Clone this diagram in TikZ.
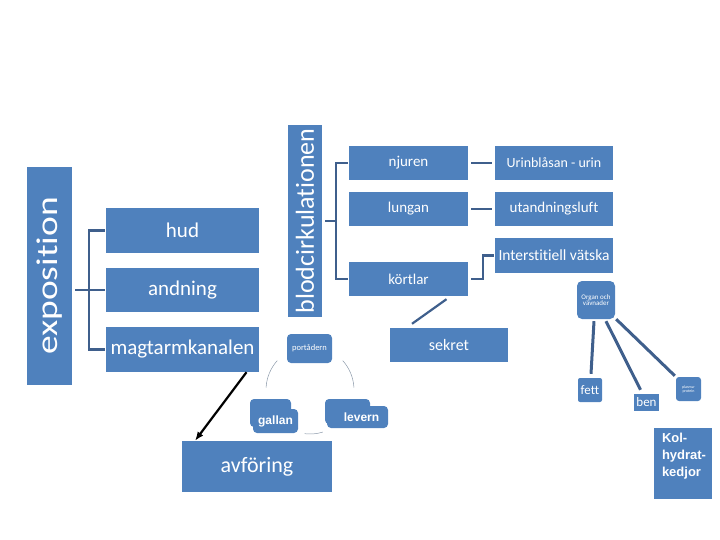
\documentclass[tikz,border=0pt]{standalone}
\usepackage{fontspec}
\setmainfont{Carlito}[RawFeature={-liga,-dlig,-clig}]
\newfontfamily\arialfont{Liberation Sans}
\usetikzlibrary{arrows.meta}
\definecolor{boxblue}{HTML}{4F81BD}
\definecolor{linkblue}{HTML}{3F5F8C}
\definecolor{cyclegray}{HTML}{8C9AAA}
\newcommand{\fsz}[1]{\fontsize{#1}{#1}\selectfont}
\tikzset{
    box/.style={fill=boxblue, text=white, inner sep=0pt, align=center},
    tabbox/.style={box, rounded corners=4pt, font=\arialfont\bfseries\fsz{12}},
    brk/.style={draw=linkblue, line width=2.2pt},
    lnk/.style={draw=linkblue, line width=3pt},
    cyc/.style={draw=cyclegray, line width=0.5pt},
}

\begin{document}
\begin{tikzpicture}[x=1pt,y=-1pt]
    \useasboundingbox (0,0) rectangle (720,540);
    % Левая часть: exposition и три пути.
    \node[box, rotate=90, minimum width=218, minimum height=45, font=\fsz{30}] (expo) at (49.5,276) {\scalebox{1.25}[1]{exposition}};
    \node[box, minimum width=153, minimum height=45, font=\fsz{21}] (hud) at (182.5,230.5) {hud};
    \node[box, minimum width=153, minimum height=44, font=\fsz{21}] (andning) at (182.5,290) {andning};
    \node[box, minimum width=153, minimum height=45, font=\fsz{21}] (magtarm) at (182.5,349.5) {magtarmkanalen};
    \draw[brk] ([xshift=-1pt]hud.west) -- ++(-16,0) |- ([xshift=-1pt]magtarm.west);
    \draw[brk] (andning.west -| 75,0) -- ([xshift=-1pt]andning.west);

    \node[box, rotate=90, minimum width=192, minimum height=34, font=\fsz{26}] (blod) at (305,221) {blodcirkulationen};
    \node[box, rounded corners=4pt, minimum width=45, minimum height=29, font=\fsz{8.5}] (portadern) at (309.5,348.5) {portådern};

    \node[box, minimum width=119, minimum height=34, font=\fsz{15}] (njuren) at (408.5,163) {njuren};
    \node[box, minimum width=119, minimum height=34, font=\fsz{15}] (lungan) at (408.5,209) {lungan};
    \node[box, minimum width=119, minimum height=34, font=\fsz{15}] (kortlar) at (408.5,279) {körtlar};
    \node[box, minimum width=118, minimum height=34, font=\fsz{14}] (urin) at (554,163) {Urinblåsan - urin};
    \node[box, minimum width=118, minimum height=34, font=\fsz{15}] (utand) at (554,209) {utandningsluft};
    \node[box, minimum width=118, minimum height=35, font=\fsz{15.5}] (inter) at (554,255.5) {Interstitiell vätska};
    \node[box, minimum width=118, minimum height=34, font=\fsz{16}] (sekret) at (449,345) {sekret};

    \draw[brk] ([xshift=-1pt]njuren.west) -- ++(-12,0) |- ([xshift=-1pt]kortlar.west);
    \draw[brk] ([xshift=20pt]blod.center) -- ++(12,0);
    \foreach \a/\b in {njuren/urin, lungan/utand} {
        \draw[brk] ([xshift=3pt]\a.east) -- ([xshift=-3pt]\b.west);
    }
    \draw[brk] ([xshift=3pt]kortlar.east) -- ++(12,0) |- ([xshift=-1pt]inter.west);
    \draw[brk] ([xshift=38pt,yshift=-3pt]kortlar.south) -- ([xshift=-37pt,yshift=4pt]sekret.north);

    % Депо: органы и ткани.
    \node[box, rounded corners=5pt, minimum width=38, minimum height=38, font=\fsz{7}] (organ) at (596,300) {Organ och\\[-1pt]vävnader};
    \node[box, rounded corners=2pt, minimum width=24, minimum height=24, font=\fsz{13}] (fett) at (590,390) {fett};
    \node[box, minimum width=25, minimum height=17, font=\fsz{13}] (ben) at (646.5,402.5) {ben};
    \node[box, rounded corners=3pt, minimum width=25, minimum height=24, font=\fsz{4}] (plasma) at (688.5,389) {plasma-\\protein};
    \draw[lnk] ([xshift=-2pt,yshift=-2pt]organ.south) -- ([xshift=1pt,yshift=4pt]fett.north);
    \draw[lnk] ([xshift=10pt,yshift=-2pt]organ.south) -- ([xshift=-6pt,yshift=4pt]ben.north);
    \draw[lnk] ([xshift=1pt]organ.south east) -- ([xshift=-1pt,yshift=1pt]plasma.north west);

    \node[box, minimum width=58, minimum height=71] (kolh) at (683,463.5) {};
    \node[text=white, inner sep=0pt, anchor=north west, align=left, font=\arialfont\bfseries\fontsize{13}{17}\selectfont] (kolht) at ([xshift=8pt,yshift=-5pt]kolh.north west) {Kol-\\hydrat-\\kedjor};

    % Нижняя часть: круг через levern.
    \coordinate (cykel) at (310,390);
    \draw[cyc] (cykel) ++(-138:44) arc[start angle=-138, end angle=-177, radius=44];
    \draw[cyc] (cykel) ++(-42:44) arc[start angle=-42, end angle=-3, radius=44];
    \draw[cyc] (cykel) ++(-263:44) arc[start angle=-263, end angle=-287, radius=44];
    \fill[boxblue, rounded corners=4pt] (250,399) rectangle (291,427);
    \node[tabbox, minimum width=45, minimum height=24] (gallan) at (275.5,421) {gallan};
    \fill[boxblue, rounded corners=4pt] (325,399) rectangle (370,424);
    \node[tabbox, minimum width=61, minimum height=22] (levern) at (357.5,417) {\hspace{8pt}levern};

    \node[box, minimum width=150, minimum height=51, font=\fsz{22}] (avforing) at (257,466.5) {avföring};
    \draw[-{Latex[length=9pt,width=7pt]}, line width=2.2pt, black] ([xshift=64pt]magtarm.south) -- ([xshift=-62pt]avforing.north);
\end{tikzpicture}
\end{document}
